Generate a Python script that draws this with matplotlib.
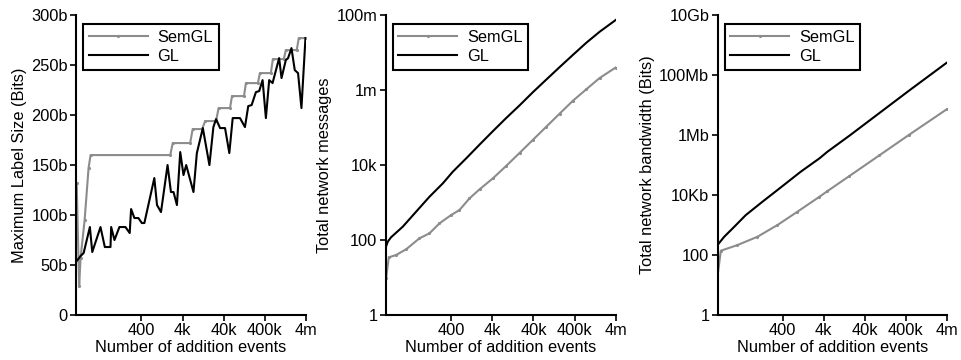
import matplotlib
matplotlib.use("Agg")
import matplotlib.pyplot as plt

plt.rcParams['font.family'] = ['Liberation Sans', 'DejaVu Sans']
plt.rcParams['font.size'] = 11.8

# x positions of ticks / labels
xticks = [400, 4000, 40000, 400000, 4000000]
xticklabels = ['400', '4k', '40k', '400k', '4m']

# ---- left panel: maximum label size (bits)
label_gl_x = [10.7, 13.3, 15.8, 22.4, 25.6, 40.6, 51.7, 71.0, 73.8, 88.7, 117, 164, 208, 225,
              271, 338, 411, 473, 826, 960, 1200, 1733, 2094, 2421, 2927, 3520, 4228, 4920,
              7390, 8930, 12480, 18030, 22530, 26190, 32730, 43250, 54960, 66400, 99800,
              131800, 158500, 191500, 243600, 292600, 353900, 425600, 511700, 618100,
              893300, 1021000, 1298000, 1475000, 1782000, 2142000, 2576000, 3114000, 3900000]
label_gl_y = [54, 59, 62, 88, 63, 88, 68, 68, 88, 75, 88, 88, 82, 106,
              97, 97, 92, 92, 137, 110, 103, 150, 123, 123, 110, 163, 140, 150,
              123, 162, 187, 150, 188, 196, 187, 187, 162, 197, 197,
              188, 209, 210, 223, 224, 235, 197, 235, 232,
              257, 237, 255, 257, 267, 245, 242, 207, 277]

label_sem_x = [10.7, 12.3, 13.3, 16.7, 20.8, 23.3, 2014, 2317, 6140, 7060, 12000, 14190, 26190,
               30120, 57150, 63880, 124800, 139400, 272300, 304300, 562300, 628100, 1160000,
               1298000, 2394000, 2678000, 4000000]
label_sem_y = [132, 29, 57, 95, 147, 160, 160, 172, 172, 186, 186, 194, 194,
               207, 207, 219, 219, 232, 232, 242, 242, 256, 256,
               265, 265, 277, 277]

# ---- middle panel: total network messages
msg_gl_x = [10.1, 11.5, 13.8, 26.7, 56.3, 119, 251, 439, 927, 1958, 4130, 8730, 18400, 38900,
            82000, 173400, 365600, 772300, 1630000, 4000000]
msg_gl_y = [60, 90, 118, 227, 570, 1430, 3245, 6640, 15060, 35000, 80000, 180000, 390000,
            880000, 1.9e6, 4.1e6, 8.7e6, 1.83e7, 3.6e7, 7.4e7]

msg_sem_x = [10.5, 12.2, 18.3, 32.1, 67.8, 119, 208, 400, 638, 1117, 1958, 4130, 8730, 18400,
             38900, 82000, 173400, 365600, 772300, 1630000, 4000000]
msg_sem_y = [9.5, 34.5, 39.8, 56.4, 111, 151, 278, 464, 631, 1291, 2244, 4410, 9500, 21000,
             47000, 105000, 235000, 520000, 1.05e6, 2.1e6, 4.0e6]

# ---- right panel: total network bandwidth (bits)
bw_gl_x = [10.2, 14.9, 26.1, 50.1, 128, 297, 1099, 3140, 4920, 16900, 91000, 490000, 4000000]
bw_gl_y = [215, 407, 870, 2150, 6000, 14700, 60000, 1.67e5, 2.78e5, 9.5e5, 5.4e6, 3.07e7, 2.57e8]

bw_sem_x = [10.2, 12.3, 31.4, 96.6, 297, 912, 3140, 4920, 16900, 91000, 490000, 4000000]
bw_sem_y = [19, 139, 215, 407, 1000, 2780, 8750, 1.35e4, 43000, 2.1e5, 1.03e6, 7.2e6]

sem_color = '#8c8c8c'

fig = plt.figure(figsize=(9.62, 3.6), dpi=100)

panels = [
    ([0.079, 0.125, 0.239, 0.833], label_sem_x, label_sem_y, label_gl_x, label_gl_y,
     'Maximum Label Size (Bits)', 'linear', (0, 300),
     [0, 50, 100, 150, 200, 250, 300], ['0', '50b', '100b', '150b', '200b', '250b', '300b']),
    ([0.401, 0.125, 0.239, 0.833], msg_sem_x, msg_sem_y, msg_gl_x, msg_gl_y,
     'Total network messages', 'log', (1, 1e8),
     [1, 100, 1e4, 1e6, 1e8], ['1', '100', '10k', '1m', '100m']),
    ([0.746, 0.125, 0.238, 0.833], bw_sem_x, bw_sem_y, bw_gl_x, bw_gl_y,
     'Total network bandwidth (Bits)', 'log', (1, 1e10),
     [1, 100, 1e4, 1e6, 1e8, 1e10], ['1', '100', '10Kb', '1Mb', '100Mb', '10Gb']),
]

for rect, sx, sy, gx, gy, ylab, yscale, ylim, yt, ytl in panels:
    ax = fig.add_axes(rect)
    ax.plot(sx, sy, color=sem_color, lw=1.5, marker='.', ms=2.5, label='SemGL')
    ax.plot(gx, gy, color='black', lw=1.5, label='GL')
    ax.set_xscale('log')
    ax.set_yscale(yscale)
    ax.set_xlim(10.3, 4e6)
    ax.set_ylim(*ylim)
    ax.set_xticks(xticks)
    ax.set_xticklabels(xticklabels)
    ax.set_yticks(yt)
    ax.set_yticklabels(ytl)
    ax.minorticks_off()
    ax.spines['top'].set_visible(False)
    ax.spines['right'].set_visible(False)
    ax.spines['left'].set_linewidth(1.5)
    ax.spines['bottom'].set_linewidth(1.5)
    ax.tick_params(direction='out', length=4, width=1.2, pad=2)
    ax.set_xlabel('Number of addition events', labelpad=1)
    ax.set_ylabel(ylab, labelpad=3)
    leg = ax.legend(loc='upper left', bbox_to_anchor=(0.03, 0.97), fancybox=False,
                    framealpha=1, edgecolor='black', handlelength=3.6, borderpad=0.35,
                    labelspacing=0.25, handletextpad=0.6, borderaxespad=0)
    leg.get_frame().set_linewidth(1.5)

fig.savefig('out.png', dpi=100)
